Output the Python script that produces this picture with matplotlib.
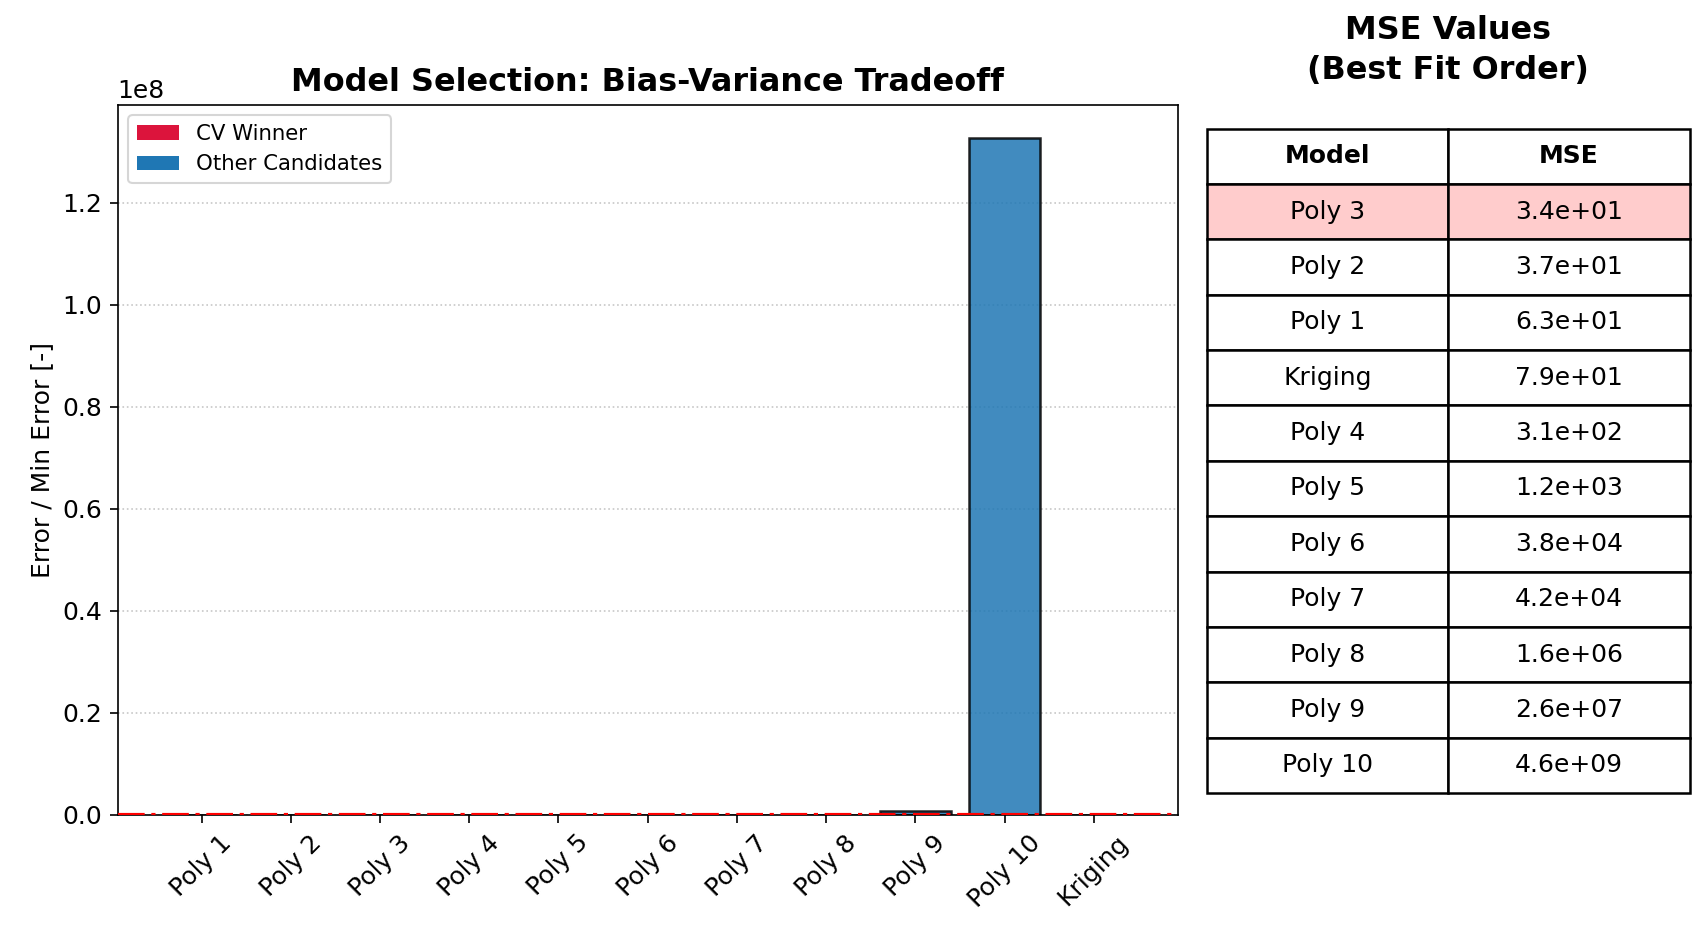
import numpy as np
import matplotlib.pyplot as plt
from matplotlib.patches import Patch

# -----------------------------
# DATA
# -----------------------------
models = ["Poly 1", "Poly 2", "Poly 3", "Poly 4", "Poly 5", "Poly 6",
          "Poly 7", "Poly 8", "Poly 9", "Poly 10", "Kriging"]
mse = [6.3e1, 3.7e1, 3.44e1, 3.1e2, 1.2e3, 3.8e4,
       4.2e4, 1.6e6, 2.6e7, 4.56e9, 7.9e1]
winner = "Poly 3"

plt.rcParams["font.size"] = 12

mse = np.array(mse)
ratio = mse / mse.min()
colors = ["crimson" if m == winner else "#1f77b4" for m in models]

# -----------------------------
# FIGURE
# -----------------------------
fig = plt.figure(figsize=(1708 / 150, 941 / 150), dpi=150)
ax = fig.add_axes([0.0689, 0.1341, 0.6206, 0.7547])

x = np.arange(len(models))
ax.bar(x, ratio, color=colors, edgecolor="black", alpha=0.85, linewidth=1.2)
ax.axhline(1.0, color="red", linestyle="-.", linewidth=2, zorder=3)

ax.set_xticks(x)
ax.set_xticklabels(models, rotation=45)
ax.tick_params(length=4)
ax.set_ylabel("Error / Min Error [-]")
ax.set_title("Model Selection: Bias-Variance Tradeoff", fontsize=15.3,
             fontweight="bold", pad=6.5)
ax.grid(axis="y", linestyle=":", alpha=0.7)
ax.set_axisbelow(True)

handles = [Patch(facecolor="crimson", label="CV Winner"),
           Patch(facecolor="#1f77b4", label="Other Candidates")]
ax.legend(handles=handles, loc="upper left", fontsize=10.2)

# -----------------------------
# TABLE
# -----------------------------
ax2 = fig.add_axes([0.7067, 0.1573, 0.2825, 0.7061])
ax2.axis("off")

order = np.argsort(mse)
rows = [[models[i], f"{mse[i]:.1e}"] for i in order]
tbl = ax2.table(cellText=rows, colLabels=["Model", "MSE"],
                cellLoc="center", bbox=[0, 0, 1, 1])
tbl.auto_set_font_size(False)
tbl.set_fontsize(12)
for (r, c), cell in tbl.get_celld().items():
    cell.set_linewidth(1.2)
    if r == 0:
        cell.set_text_props(fontweight="bold")
    elif rows[r - 1][0] == winner:
        cell.set_facecolor("#ffcccc")

ax2.set_title("MSE Values\n(Best Fit Order)", fontsize=15.3, fontweight="bold",
              pad=24, linespacing=1.35)

fig.savefig("out.png", dpi=150)
